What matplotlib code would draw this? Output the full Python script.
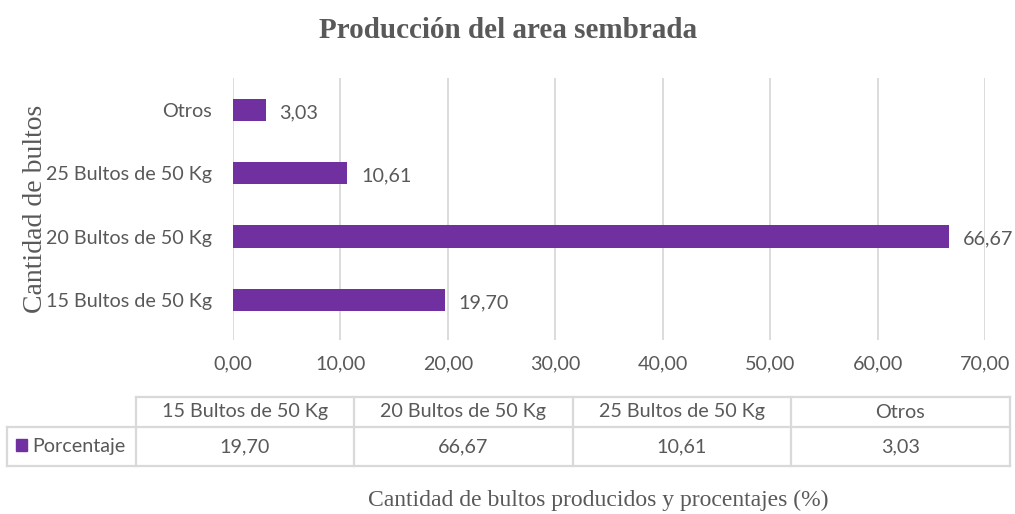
import matplotlib.pyplot as plt
from matplotlib.lines import Line2D
from matplotlib.patches import Rectangle

categorias = ['15 Bultos de 50 Kg', '20 Bultos de 50 Kg', '25 Bultos de 50 Kg', 'Otros']
porcentaje = [19.70, 66.67, 10.61, 3.03]
serie = 'Porcentaje'
xticks = [0, 10, 20, 30, 40, 50, 60, 70]

morado = '#7030A0'
gris = '#595959'
borde = '#D9D9D9'
sans = 'Lato'
serif = 'Liberation Serif'
fs = 14.2

def fmt(v):
    return f'{v:.2f}'.replace('.', ',')

W, H = 1015, 514
fig = plt.figure(figsize=(W / 100, H / 100), dpi=100)
ax = fig.add_axes([233 / W, 1 - 340 / H, (985 - 233) / W, (340 - 78) / H])

y = range(len(categorias))
ax.barh(y, porcentaje, height=0.35, color=morado, zorder=3)
for yi, v in zip(y, porcentaje):
    ax.annotate(fmt(v), (v, yi), xytext=(10, -2), textcoords='offset points',
                va='center', ha='left', fontsize=fs, color=gris, family=sans)

ax.set_xlim(0, 70)
ax.set_ylim(-0.63, 3.5)
ax.set_xticks(xticks)
ax.set_xticklabels([fmt(t) for t in xticks], fontsize=fs, color=gris, family=sans)
ax.set_yticks(list(y))
ax.set_yticklabels(categorias, fontsize=fs, color=gris, family=sans)
ax.tick_params(length=0, pad=15, axis='y')
ax.tick_params(length=0, pad=11, axis='x')
ax.grid(axis='x', color=borde, linewidth=1.3, zorder=0)
for s in ax.spines.values():
    s.set_visible(False)

ax.set_ylabel('Cantidad de bultos', family=serif, fontsize=20, color=gris)
ax.yaxis.set_label_coords(-185 / (985 - 233), 0.5)

fig.text(508 / W, 1 - 30 / H, 'Producción del area sembrada', ha='center', va='center',
         family=serif, fontsize=21, fontweight='bold', color=gris)

# tabla de datos
cols = [7, 136, 354, 573, 791, 1010]
top, mid, bot = 397, 427, 466
def fx(px):
    return px / W
def fy(py):
    return 1 - py / H
lines = [((cols[1], cols[-1]), (top, top)), ((cols[0], cols[-1]), (mid, mid)),
         ((cols[0], cols[-1]), (bot, bot)), ((cols[0], cols[0]), (mid, bot))]
for c in cols[1:]:
    lines.append(((c, c), (top, bot)))
for xs, ys in lines:
    fig.add_artist(Line2D([fx(p) for p in xs], [fy(p) for p in ys], color=borde, linewidth=1.6))
for i, (cat, v) in enumerate(zip(categorias, porcentaje)):
    xc = fx((cols[i + 1] + cols[i + 2]) / 2)
    fig.text(xc, fy((top + mid) / 2), cat, ha='center', va='center', fontsize=fs, color=gris, family=sans)
    fig.text(xc, fy((mid + bot) / 2), fmt(v), ha='center', va='center', fontsize=fs, color=gris, family=sans)
fig.add_artist(Rectangle((fx(16), fy(451)), 11 / W, 12 / H, color=morado))
fig.text(fx(32), fy((mid + bot) / 2), serie, ha='left', va='center', fontsize=fs, color=gris, family=sans)

fig.text(598 / W, 1 - 500 / H, 'Cantidad de bultos producidos y procentajes (%)', ha='center', va='center',
         family=serif, fontsize=17, color=gris)

fig.savefig('out.png', dpi=100, facecolor='white')
